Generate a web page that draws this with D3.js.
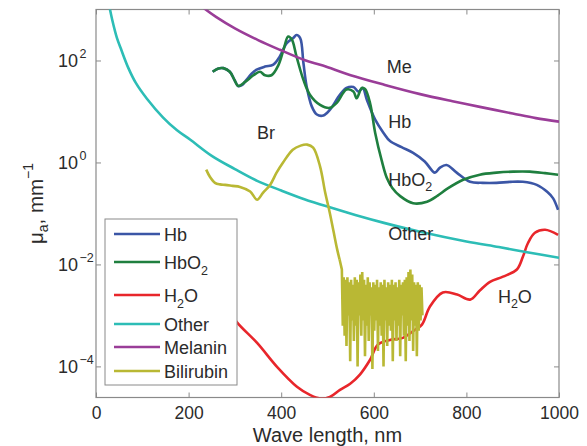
<!DOCTYPE html>
<html><head><meta charset="utf-8">
<script src="https://cdn.jsdelivr.net/npm/d3@7"></script>
<style>
html,body{margin:0;padding:0;background:#fff;}
svg{display:block;font-family:"Liberation Sans",Arial,Helvetica,sans-serif;}
</style></head>
<body>
<svg id="chart" width="587" height="446"></svg>
<script>
// ---- data: [wavelength nm, log10(mu_a / mm^-1)] ----
const xTicks = [0, 200, 400, 600, 800, 1000];
const yTickExps = [-4, -2, 0, 2];
const seriesNames = ["Hb", "HbO2", "H2O", "Other", "Melanin", "Bilirubin"];
const seriesColors = ["#3b56a6", "#1f7f3f", "#e8262b", "#2dbdb6", "#9a3d98", "#b9b834"];

const hb = [[252,1.78],[263,1.84],[275,1.85],[289,1.78],[299,1.62],[307,1.50],[316,1.52],[325,1.62],[336,1.74],[347,1.82],[365,1.88],[383,1.92],[397,2.08],[412,2.34],[426,2.44],[433,2.50],[441,2.44],[448,1.95],[455,1.49],[466,1.10],[477,0.94],[491,0.92],[505,1.03],[527,1.33],[541,1.46],[556,1.48],[567,1.39],[576,1.46],[585,1.23],[603,0.84],[621,0.58],[635,0.42],[660,0.30],[685,0.19],[710,0.02],[732,-0.20],[743,-0.10],[757,-0.05],[779,-0.20],[808,-0.38],[835,-0.40],[865,-0.40],[895,-0.38],[922,-0.38],[952,-0.44],[975,-0.58],[987,-0.70],[998,-0.93]];

const hbo2 = [[252,1.78],[263,1.84],[275,1.85],[289,1.78],[299,1.62],[307,1.50],[322,1.58],[340,1.71],[354,1.78],[365,1.71],[379,1.71],[394,1.91],[405,2.21],[415,2.47],[423,2.41],[433,2.08],[448,1.62],[462,1.33],[484,1.13],[505,1.07],[520,1.17],[541,1.43],[556,1.39],[563,1.26],[574,1.46],[581,1.44],[592,1.16],[603,0.58],[617,0.04],[628,-0.30],[640,-0.50],[657,-0.66],[685,-0.80],[715,-0.77],[738,-0.65],[758,-0.52],[793,-0.34],[829,-0.24],[865,-0.20],[901,-0.18],[937,-0.18],[970,-0.21],[998,-0.24]];

const h2o = [[250,-2.45],[280,-2.82],[305,-3.14],[348,-3.54],[391,-4.01],[434,-4.40],[462,-4.56],[484,-4.63],[505,-4.60],[527,-4.46],[549,-4.34],[570,-4.16],[592,-3.87],[609,-3.57],[635,-3.48],[663,-3.44],[689,-3.28],[704,-3.18],[721,-2.83],[749,-2.55],[780,-2.59],[808,-2.69],[829,-2.51],[851,-2.34],[879,-2.24],[909,-2.10],[922,-1.85],[933,-1.58],[948,-1.38],[970,-1.32],[998,-1.42]];

const other = [[28,3.1],[35,2.8],[45,2.45],[55,2.2],[70,1.85],[86,1.56],[110,1.25],[145,0.88],[175,0.63],[203,0.45],[250,0.13],[300,-0.13],[348,-0.36],[400,-0.55],[450,-0.72],[505,-0.88],[560,-1.03],[624,-1.19],[700,-1.36],[800,-1.55],[870,-1.66],[931,-1.76],[1000,-1.87]];

const melanin = [[228,3.06],[260,2.85],[300,2.63],[350,2.40],[397,2.21],[450,2.01],[490,1.90],[550,1.71],[624,1.52],[700,1.34],[770,1.20],[829,1.09],[900,0.96],[950,0.87],[1000,0.80]];

const bilirubin = [[238,-0.14],[246,-0.28],[257,-0.40],[268,-0.43],[279,-0.44],[295,-0.46],[311,-0.48],[333,-0.57],[348,-0.73],[361,-0.59],[376,-0.44],[390,-0.20],[404,0.0],[425,0.25],[442,0.33],[456,0.35],[469,0.29],[484,-0.08],[495,-0.59],[505,-0.99],[513,-1.35],[521,-1.71],[526,-1.90]];
// noisy tail of bilirubin, 531..705 nm every 2 nm
const bilirubinNoiseStart = 531;
const bilirubinNoise = [-2.10,-3.20,-2.25,-3.40,-2.30,-3.60,-2.25,-3.00,-2.35,-3.90,-2.30,-3.10,-2.40,-3.50,-2.25,-3.20,-2.30,-4.00,-2.35,-3.00,-2.20,-3.40,-2.15,-3.10,-2.30,-3.80,-2.40,-3.20,-2.25,-3.50,-2.35,-3.00,-2.45,-4.05,-2.35,-3.30,-2.40,-3.10,-2.30,-3.70,-2.45,-3.20,-2.35,-3.40,-2.40,-4.00,-2.30,-3.10,-2.45,-3.60,-2.35,-3.20,-2.40,-3.30,-2.30,-3.90,-2.40,-3.10,-2.35,-3.50,-2.45,-3.20,-2.30,-3.80,-2.40,-3.00,-2.35,-3.40,-2.30,-3.90,-2.25,-3.20,-2.15,-3.50,-2.10,-3.10,-2.20,-3.70,-2.35,-3.20,-2.40,-3.80,-2.35,-3.30,-2.40,-3.10,-2.45,-3.00];

// in-plot labels (baseline positions in data units)
const plotLabels = [
  {text:"Me", wl:628, v:1.76},
  {text:"Hb", wl:631, v:0.67},
  {text:"HbO", sub:"2", wl:631, v:-0.46},
  {text:"Other", wl:631, v:-1.53},
  {text:"H", sub:"2", after:"O", wl:868, v:-2.75},
  {text:"Br", wl:348, v:0.46}
];

// ---- layout ----
const svg = d3.select("#chart");
const mLeft = 96, mRight = 559, mTop = 9.5, mBottom = 397.5;
const x = d3.scaleLinear().domain([0, 1000]).range([mLeft, mRight]);
const y = d3.scaleLog().domain([Math.pow(10, -4.61), 1000]).range([mBottom, mTop]);
const axisColor = "#8a8a8a", textColor = "#2b2b2b";

svg.append("defs").append("clipPath").attr("id", "clip")
  .append("rect").attr("x", mLeft).attr("y", mTop).attr("width", mRight - mLeft).attr("height", mBottom - mTop);

// axes (ticks inward on all four sides)
const gx = svg.append("g").attr("transform", `translate(0,${mBottom})`)
  .call(d3.axisBottom(x).tickValues(xTicks).tickSize(-5).tickPadding(10).tickFormat(d3.format("d")));
const gxt = svg.append("g").attr("transform", `translate(0,${mTop})`)
  .call(d3.axisTop(x).tickValues(xTicks).tickSize(-5).tickFormat(""));
const yVals = yTickExps.map(e => Math.pow(10, e));
const gy = svg.append("g").attr("transform", `translate(${mLeft},0)`)
  .call(d3.axisLeft(y).tickValues(yVals).tickSize(-5).tickFormat(""));
const gyr = svg.append("g").attr("transform", `translate(${mRight},0)`)
  .call(d3.axisRight(y).tickValues(yVals).tickSize(-5).tickFormat(""));
[gx, gxt, gy, gyr].forEach(g => {
  g.select(".domain").remove();
  g.selectAll(".tick line").attr("stroke", axisColor).attr("stroke-width", 1);
});
gx.selectAll(".tick text").attr("fill", textColor).attr("font-size", 17.5)
  .attr("font-family", "Liberation Sans, Arial, sans-serif").attr("dy", null).attr("y", 21.5);

// y tick labels 10^n
yTickExps.forEach(e => {
  const t = svg.append("text").attr("x", 58).attr("y", y(Math.pow(10, e)) + 6.8)
    .attr("fill", textColor).attr("font-size", 18);
  t.append("tspan").text("10");
  t.append("tspan").attr("font-size", 12.5).attr("dy", -9.5).attr("dx", 1.5)
    .text(e < 0 ? "\u2212" + Math.abs(e) : String(e));
});

// box
svg.append("rect").attr("x", mLeft).attr("y", mTop).attr("width", mRight - mLeft).attr("height", mBottom - mTop)
  .attr("fill", "none").attr("stroke", axisColor).attr("stroke-width", 1.2);

// axis titles
svg.append("text").attr("x", (mLeft + mRight) / 2).attr("y", 442).attr("text-anchor", "middle")
  .attr("fill", textColor).attr("font-size", 20).text("Wave length, nm");
const yt = svg.append("text").attr("transform", `translate(43,${(mTop + mBottom) / 2}) rotate(-90)`)
  .attr("text-anchor", "middle").attr("fill", textColor).attr("font-size", 20.5);
yt.append("tspan").text("\u03bc");
yt.append("tspan").attr("font-size", 14).attr("dy", 5).text("a");
yt.append("tspan").attr("dy", -5).text(", mm");
yt.append("tspan").attr("font-size", 14).attr("dy", -10).text("\u22121");

// lines
const line = d3.line().x(d => x(d[0])).y(d => y(Math.pow(10, d[1]))).curve(d3.curveCatmullRom.alpha(0.5));
const plot = svg.append("g").attr("clip-path", "url(#clip)");
const smooth = [hb, hbo2, h2o, other, melanin];
smooth.forEach((s, i) => {
  plot.append("path").datum(s).attr("d", line).attr("fill", "none")
    .attr("stroke", seriesColors[i]).attr("stroke-width", 2.6).attr("stroke-linejoin", "round");
});
const bil = bilirubin.concat(bilirubinNoise.map((v, i) => [bilirubinNoiseStart + 2 * i, v]));
const bilLine = d3.line().x(d => x(d[0])).y(d => y(Math.pow(10, d[1])))
  .curve(d3.curveLinear);
plot.append("path").datum(bilirubin).attr("d", line).attr("fill", "none")
  .attr("stroke", seriesColors[5]).attr("stroke-width", 2.6);
plot.append("path").datum(bil.slice(bilirubin.length - 1)).attr("d", bilLine).attr("fill", "none")
  .attr("stroke", seriesColors[5]).attr("stroke-width", 2.6).attr("stroke-linejoin", "miter");

// in-plot labels
plotLabels.forEach(l => {
  const t = svg.append("text").attr("x", x(l.wl)).attr("y", y(Math.pow(10, l.v)))
    .attr("fill", textColor).attr("font-size", 18);
  t.append("tspan").text(l.text);
  if (l.sub) t.append("tspan").attr("font-size", 12.5).attr("dy", 5).text(l.sub);
  if (l.after) t.append("tspan").attr("dy", -5).text(l.after);
});

// legend
const lg = svg.append("g");
lg.append("rect").attr("x", 105).attr("y", 219).attr("width", 132).attr("height", 166)
  .attr("fill", "#fff").attr("stroke", axisColor).attr("stroke-width", 1);
const legendY = [234, 262, 295, 324, 347, 371];
const legendLabels = [["Hb"], ["HbO", "2"], ["H", "2", "O"], ["Other"], ["Melanin"], ["Bilirubin"]];
seriesNames.forEach((n, i) => {
  lg.append("line").attr("x1", 114).attr("x2", 160).attr("y1", legendY[i]).attr("y2", legendY[i])
    .attr("stroke", seriesColors[i]).attr("stroke-width", 2.6);
  const t = lg.append("text").attr("x", 164).attr("y", legendY[i] + 6.5)
    .attr("fill", textColor).attr("font-size", 18);
  const parts = legendLabels[i];
  t.append("tspan").text(parts[0]);
  if (parts[1]) t.append("tspan").attr("font-size", 12.5).attr("dy", 6).text(parts[1]);
  if (parts[2]) t.append("tspan").attr("dy", -6).text(parts[2]);
});
</script>
</body></html>
